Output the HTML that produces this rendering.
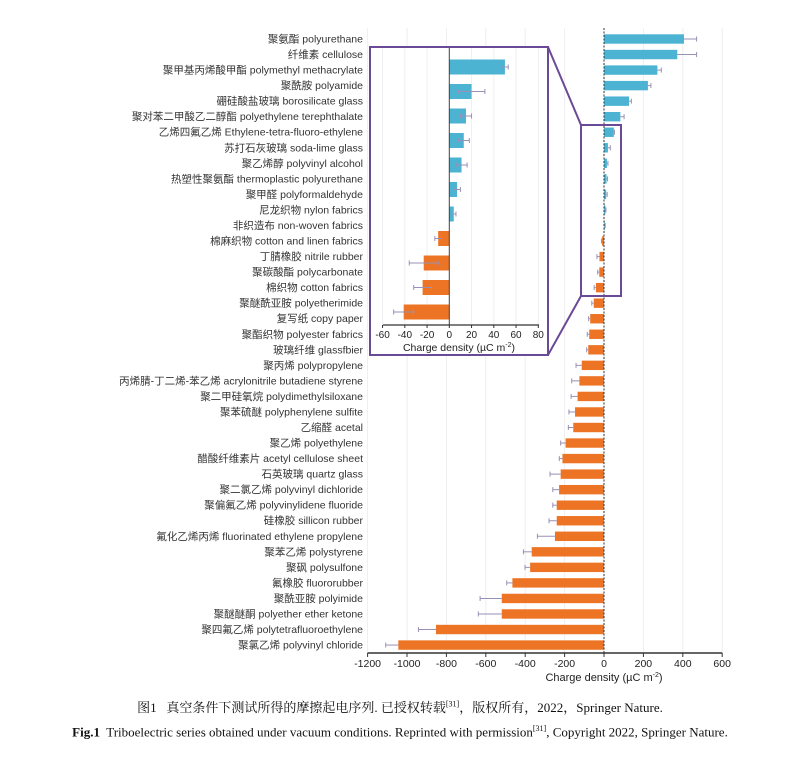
<!DOCTYPE html>
<html><head><meta charset="utf-8"><style>
body{margin:0;background:#fff;width:800px;height:757px;overflow:hidden;position:relative;font-family:"Liberation Sans","Noto Sans CJK SC",sans-serif}
.cap{position:absolute;left:0;width:800px;text-align:center;font-family:"Liberation Serif","Noto Serif CJK SC",serif;font-size:13px;color:#111}
sup{font-size:8px}
</style></head><body>
<svg id="chart" width="800" height="690" style="position:absolute;left:0;top:0" font-family="Liberation Sans, Noto Sans CJK SC, sans-serif"></svg>
<div class="cap" style="top:697px">图1&nbsp;&nbsp;&nbsp;真空条件下测试所得的摩擦起电序列. 已授权转载<sup>[31]</sup>，版权所有，2022，Springer Nature.</div>
<div class="cap" style="top:724px"><b>Fig.1</b>&nbsp; Triboelectric series obtained under vacuum conditions. Reprinted with permission<sup>[31]</sup>, Copyright 2022, Springer Nature.</div>
<script>
const categories=["聚氨酯 polyurethane","纤维素 cellulose","聚甲基丙烯酸甲酯 polymethyl methacrylate","聚酰胺 polyamide","硼硅酸盐玻璃 borosilicate glass","聚对苯二甲酸乙二醇酯 polyethylene terephthalate","乙烯四氟乙烯 Ethylene-tetra-fluoro-ethylene","苏打石灰玻璃 soda-lime glass","聚乙烯醇 polyvinyl alcohol","热塑性聚氨酯 thermoplastic polyurethane","聚甲醛 polyformaldehyde","尼龙织物 nylon fabrics","非织造布 non-woven fabrics","棉麻织物 cotton and linen fabrics","丁腈橡胶 nitrile rubber","聚碳酸酯 polycarbonate","棉织物 cotton fabrics","聚醚酰亚胺 polyetherimide","复写纸 copy paper","聚酯织物 polyester fabrics","玻璃纤维 glassfbier","聚丙烯 polypropylene","丙烯腈-丁二烯-苯乙烯 acrylonitrile butadiene styrene","聚二甲硅氧烷 polydimethylsiloxane","聚苯硫醚 polyphenylene sulfite","乙缩醛 acetal","聚乙烯 polyethylene","醋酸纤维素片 acetyl cellulose sheet","石英玻璃 quartz glass","聚二氯乙烯 polyvinyl dichloride","聚偏氟乙烯 polyvinylidene fluoride","硅橡胶 sillicon rubber","氟化乙烯丙烯 fluorinated ethylene propylene","聚苯乙烯 polystyrene","聚砜 polysulfone","氟橡胶 fluororubber","聚酰亚胺 polyimide","聚醚醚酮 polyether ether ketone","聚四氟乙烯 polytetrafluoroethylene","聚氯乙烯 polyvinyl chloride"];
const values=[406,372,271,223,127,83,50,20,15,13,11,7,4,-10,-23,-24,-41,-52,-70,-75,-80,-113,-125,-134,-147,-156,-195,-211,-220,-228,-240,-240,-249,-367,-375,-465,-519,-519,-853,-1044];
const errors=[64,98,20,15,12,19,3,12,5,5,5,3,2,3,13,8,9,10,8,10,8,29,39,33,31,25,25,16,54,32,20,39,89,42,26,29,110,119,89,64];
const ticks=[-1200,-1000,-800,-600,-400,-200,0,200,400,600];
const insetIdx=[6,7,8,9,10,11,12,13,14,15,16];
const insetTicks=[-60,-40,-20,0,20,40,60,80];
const NS="http://www.w3.org/2000/svg",svg=document.getElementById('chart');
function mk(t,a,p){const e=document.createElementNS(NS,t);for(const k in a)e.setAttribute(k,a[k]);(p||svg).appendChild(e);return e;}
const BLUE="#4cb3d2",ORANGE="#ec7424";
const x=v=>604+v*0.197, y=i=>39+i*15.54;
ticks.forEach(t=>{const g=mk('line',{x1:x(t),x2:x(t),y1:28,y2:653,stroke:'#eeeeee','stroke-width':1});

});
categories.forEach((c,i)=>{const v=values[i],e=errors[i];
const r=mk('rect',{x:Math.min(x(0),x(v)),y:y(i)-4.7,width:Math.abs(x(v)-x(0)),height:9.4,fill:v>=0?BLUE:ORANGE});


const ex=x(v+(v>=0?e:-e));
const l=mk('line',{x1:x(v),x2:ex,y1:y(i),y2:y(i),stroke:'#9a8fb5','stroke-width':1});


mk('line',{x1:ex,x2:ex,y1:y(i)-2.5,y2:y(i)+2.5,stroke:'#9a8fb5','stroke-width':1});
const t=mk('text',{x:363,y:y(i)+3.5,'text-anchor':'end','font-size':10.5,fill:'#333'});t.textContent=c.replace(' ','  ');
t.setAttribute('xml:space','preserve');

});
mk('line',{x1:x(0),x2:x(0),y1:28,y2:653,stroke:'#333','stroke-width':1,'stroke-dasharray':'2,1.5'});
const ax=mk('line',{x1:x(-1200),x2:x(600),y1:653,y2:653,stroke:'#333','stroke-width':1.5});


ticks.forEach(t=>{mk('line',{x1:x(t),x2:x(t),y1:653,y2:657,stroke:'#333'});
const tl=mk('text',{x:x(t),y:667,'text-anchor':'middle','font-size':10.5,fill:'#222'});tl.textContent=t;

});
const xt=mk('text',{x:x(0),y:681,'text-anchor':'middle','font-size':11,fill:'#222'});xt.innerHTML='Charge density (µC m<tspan dy="-4" font-size="7">-2</tspan><tspan dy="4">)</tspan>';


const P='#6a4a96';
const zb=mk('rect',{x:581,y:125,width:40,height:171,fill:'none',stroke:P,'stroke-width':2});


mk('line',{x1:548,y1:47,x2:581,y2:125,stroke:P,'stroke-width':2});
mk('line',{x1:548,y1:355,x2:581,y2:296,stroke:P,'stroke-width':2});
const ib=mk('rect',{x:370,y:47,width:178,height:308,fill:'#fff',stroke:P,'stroke-width':2});


const ix=v=>449.3+v*1.1125, iy=j=>67+j*24.5;
insetTicks.forEach(t=>{mk('line',{x1:ix(t),x2:ix(t),y1:48,y2:325,stroke:'#f0f0f0'});});
insetIdx.forEach((k,j)=>{const v=values[k],e=errors[k];
const r=mk('rect',{x:Math.min(ix(0),ix(v)),y:iy(j)-7.5,width:Math.abs(ix(v)-ix(0)),height:15,fill:v>=0?BLUE:ORANGE});


const a=ix(v-e),b=ix(v+e);
mk('line',{x1:a,x2:b,y1:iy(j),y2:iy(j),stroke:'#9a8fb5','stroke-width':1});
mk('line',{x1:b,x2:b,y1:iy(j)-2.5,y2:iy(j)+2.5,stroke:'#9a8fb5'});
mk('line',{x1:a,x2:a,y1:iy(j)-2.5,y2:iy(j)+2.5,stroke:'#9a8fb5'});});
mk('line',{x1:ix(0),x2:ix(0),y1:48,y2:325,stroke:'#444','stroke-width':1});
const iax=mk('line',{x1:383,x2:539,y1:325,y2:325,stroke:'#333','stroke-width':1.3});


insetTicks.forEach(t=>{mk('line',{x1:ix(t),x2:ix(t),y1:325,y2:328,stroke:'#333'});
const tl=mk('text',{x:ix(t),y:338,'text-anchor':'middle','font-size':10,fill:'#222'});tl.textContent=t;

});
const it=mk('text',{x:459,y:351,'text-anchor':'middle','font-size':10.5,fill:'#222'});it.innerHTML='Charge density (µC m<tspan dy="-4" font-size="7">-2</tspan><tspan dy="4">)</tspan>';


</script>
</body></html>
